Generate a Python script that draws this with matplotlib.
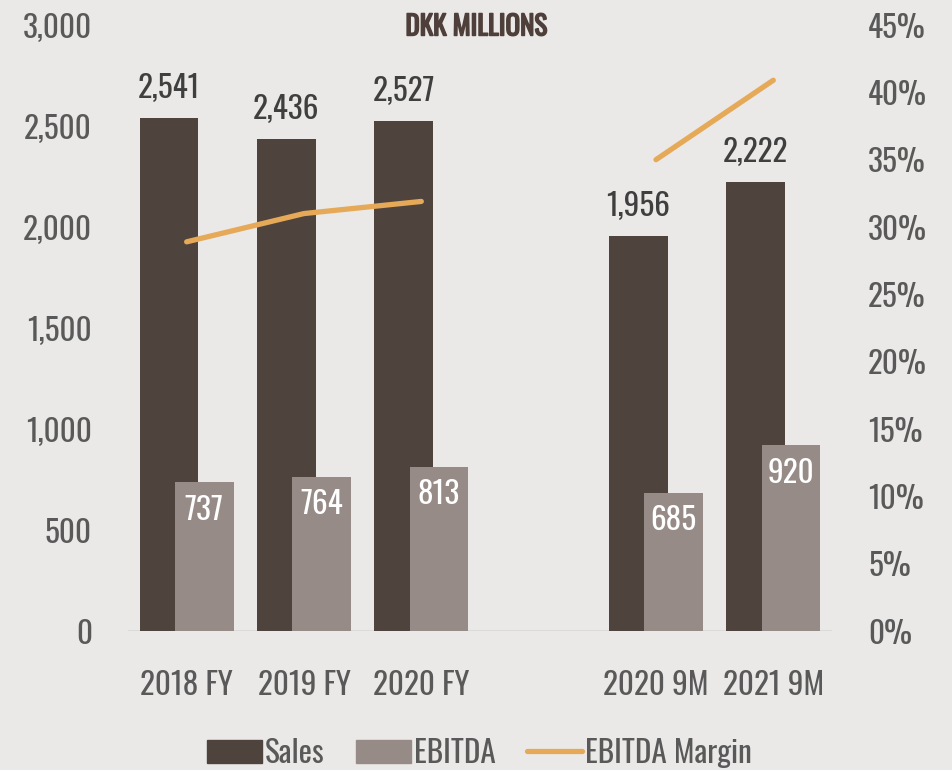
import numpy as np
import matplotlib
matplotlib.use('Agg')
import matplotlib.pyplot as plt
import matplotlib.ticker as mticker
import matplotlib.patheffects as pe
from matplotlib.lines import Line2D
from matplotlib.patches import Patch

# DKK millions, blank slot separates full years from 9M figures
periods = ['2018 FY', '2019 FY', '2020 FY', '', '2020 9M', '2021 9M']
sales = [2541, 2436, 2527, np.nan, 1956, 2222]
ebitda = [737, 764, 813, np.nan, 685, 920]
margin = [28.9, 31.0, 31.9, np.nan, 35.0, 40.9]

sales_color = '#4f433e'
ebitda_color = '#968b87'
margin_color = '#e5a958'
text_color = '#595959'
bg_color = '#eae9e7'

plt.rcParams['font.family'] = ['Oswald', 'DejaVu Sans']
plt.rcParams['font.weight'] = 'light'

fs = 22.5

fig = plt.figure(figsize=(9.53, 7.70), dpi=100)
fig.patch.set_facecolor(bg_color)

ax = fig.add_axes([0.1343, 0.1805, 0.7387, 0.787])
ax.set_facecolor('none')
ax2 = ax.twinx()

x = np.arange(len(periods))
width = 0.5
off = 0.15

ax.bar(x - off, sales, width, color=sales_color, zorder=2)
ax.bar(x + off, ebitda, width, color=ebitda_color, zorder=3)

for xi, s, e in zip(x, sales, ebitda):
  if np.isnan(s):
    continue
  ax.annotate('{:,.0f}'.format(s), (xi - off, s), xytext=(0, 10),
              textcoords='offset points', ha='center', va='bottom',
              fontsize=fs, color='#3f3f3f')
  ax.annotate('{:,.0f}'.format(e), (xi + off, e), xytext=(0, -9),
              textcoords='offset points', ha='center', va='top',
              fontsize=fs, color='white', zorder=4)

ax.set_xlim(-0.5, len(periods) - 0.5)
ax.set_ylim(0, 3000)
ax.yaxis.set_major_locator(mticker.MultipleLocator(500))
ax.yaxis.set_major_formatter(mticker.FuncFormatter(lambda v, p: '{:,.0f}'.format(v)))
ax.set_xticks(x)
ax.set_xticklabels(periods)

ax2.plot(x, margin, color=margin_color, lw=3.8, solid_capstyle='round', zorder=5)
ax2.set_ylim(0, 45)
ax2.yaxis.set_major_locator(mticker.MultipleLocator(5))
ax2.yaxis.set_major_formatter(mticker.FuncFormatter(lambda v, p: '%d%%' % v))

for a in (ax, ax2):
  for side in ('top', 'left', 'right', 'bottom'):
    a.spines[side].set_visible(False)
  a.tick_params(length=0, labelsize=fs, labelcolor=text_color)

ax.axhline(0, color='#d6d6d6', lw=1.8, zorder=1)
ax.tick_params(axis='y', pad=26)
ax.tick_params(axis='x', pad=28)
ax2.tick_params(axis='y', pad=26)

# the installed Oswald has a single weight, so thicken the title with a stroke
title_color = '#4e3f3a'
fig.text(0.5, 0.965, 'DKK MILLIONS', ha='center', va='center',
         fontsize=19.5, fontweight='bold', color=title_color,
         path_effects=[pe.withStroke(linewidth=1.1, foreground=title_color)])

handles = [Patch(color=sales_color, label='Sales'),
           Patch(color=ebitda_color, label='EBITDA'),
           Line2D([], [], color=margin_color, lw=3.8, solid_capstyle='round',
                  label='EBITDA Margin')]
fig.legend(handles=handles, loc='center', bbox_to_anchor=(0.503, 0.022),
           ncol=3, frameon=False, fontsize=fs, labelcolor=text_color,
           handlelength=1.75, handleheight=0.75, handletextpad=0.1,
           columnspacing=1.0)

fig.savefig('out.png', dpi=100, facecolor=fig.get_facecolor())
